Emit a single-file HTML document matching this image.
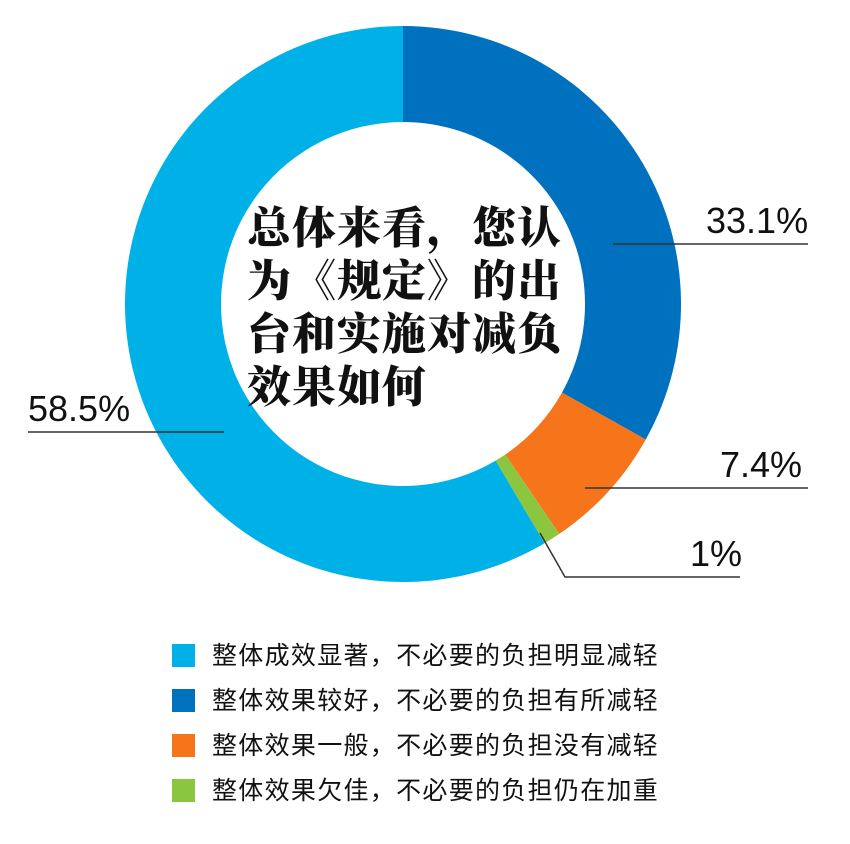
<!DOCTYPE html>
<html><head><meta charset="utf-8"><style>
html,body{margin:0;padding:0;background:#fff;}
body{width:850px;height:844px;position:relative;overflow:hidden;font-family:"Liberation Sans","Noto Sans CJK SC",sans-serif;}
.t{position:absolute;font-family:"Noto Serif CJK SC","Noto Sans CJK SC",serif;font-weight:900;font-size:44px;color:#111;left:247px;letter-spacing:1px;line-height:53px;top:198px;}
.lab{position:absolute;font-size:36px;color:#111;}
.leg{position:absolute;left:172px;font-size:25px;letter-spacing:1.3px;color:#111;}
.leg span{display:inline-block;width:23px;height:23px;vertical-align:-3px;margin-right:17px;}
</style></head><body>
<svg id="s" width="850" height="844" style="position:absolute;left:0;top:0"></svg>
<div class="t">总体来看，您认<br>为《规定》的出<br>台和实施对减负<br>效果如何</div>
<div class="lab" style="left:706px;top:200px">33.1%</div>
<div class="lab" style="left:720px;top:444px">7.4%</div>
<div class="lab" style="left:690px;top:533px">1%</div>
<div class="lab" style="left:28px;top:388px">58.5%</div>
<div class="leg" style="top:636px"><span style="background:#00b1e7"></span>整体成效显著，不必要的负担明显减轻</div>
<div class="leg" style="top:681px"><span style="background:#0071bf"></span>整体效果较好，不必要的负担有所减轻</div>
<div class="leg" style="top:726px"><span style="background:#f6741a"></span>整体效果一般，不必要的负担没有减轻</div>
<div class="leg" style="top:771px"><span style="background:#8cc63e"></span>整体效果欠佳，不必要的负担仍在加重</div>
<script>
var cx=403,cy=304,R=278,r=182;
var d=[[33.1,"#0071bf"],[7.4,"#f6741a"],[1,"#8cc63e"],[58.5,"#00b1e7"]];
var tot=100,a=0,h="";
function p(rad,ang){return [cx+rad*Math.sin(ang),cy-rad*Math.cos(ang)];}
d.forEach(function(s){var a0=a/tot*2*Math.PI;a+=s[0];var a1=a/tot*2*Math.PI;var l=(a1-a0)>Math.PI?1:0;
var A=p(R,a0),B=p(R,a1),C=p(r,a1),D=p(r,a0);
h+='<path fill="'+s[1]+'" d="M'+A+' A'+R+','+R+' 0 '+l+' 1 '+B+' L'+C+' A'+r+','+r+' 0 '+l+' 0 '+D+'Z"/>';});
h+='<g stroke="#333" stroke-width="1.5" fill="none"><path d="M613,244H808"/><path d="M585,488H808"/><path d="M540,533L565,577H740"/><path d="M28,432H224"/></g>';
document.getElementById('s').innerHTML=h;
</script>
</body></html>
